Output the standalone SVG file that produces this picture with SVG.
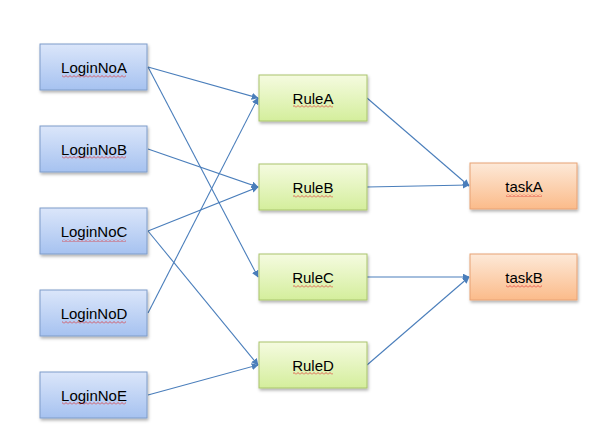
<svg xmlns="http://www.w3.org/2000/svg" width="615" height="437" viewBox="0 0 615 437">
<defs>
<linearGradient id="gBlue" x1="0" y1="0" x2="0" y2="1"><stop offset="0" stop-color="#dbe6fa"/><stop offset="1" stop-color="#a6c2f0"/></linearGradient>
<linearGradient id="gGreen" x1="0" y1="0" x2="0" y2="1"><stop offset="0" stop-color="#f5fbe0"/><stop offset="1" stop-color="#d4ee9c"/></linearGradient>
<linearGradient id="gOrange" x1="0" y1="0" x2="0" y2="1"><stop offset="0" stop-color="#fde9d8"/><stop offset="1" stop-color="#fbbb8a"/></linearGradient>
<filter id="sh" x="-10%" y="-20%" width="130%" height="160%"><feDropShadow dx="1" dy="2" stdDeviation="1.5" flood-color="#000" flood-opacity="0.3"/></filter>
<marker id="arr" viewBox="0 0 10 10" refX="9" refY="5" markerWidth="7" markerHeight="7" markerUnits="userSpaceOnUse" orient="auto"><path d="M0,0 L10,5 L0,10 z" fill="#4a7ebb"/></marker>
<pattern id="sq" width="4" height="3" patternUnits="userSpaceOnUse"><path d="M0,2.5 L2,0.5 L4,2.5" fill="none" stroke="#e02424" stroke-width="0.7"/></pattern>
</defs>
<style>
.blue{fill:url(#gBlue);stroke:#7f9cc9;stroke-width:1}
.green{fill:url(#gGreen);stroke:#a9c46c;stroke-width:1}
.orange{fill:url(#gOrange);stroke:#e8a274;stroke-width:1}
.box{filter:url(#sh)}
.t{font-family:"Liberation Sans",Arial,sans-serif;font-size:15px;fill:#000;text-anchor:middle}
.sq{fill:url(#sq)}
.c{stroke:#4a7ebb;stroke-width:1.1;fill:none;marker-end:url(#arr)}
</style>
<rect width="615" height="437" fill="#fff"/>
<g id="connectors">
<line class="c" x1="148" y1="67" x2="258" y2="98"/>
<line class="c" x1="148" y1="67" x2="258" y2="277"/>
<line class="c" x1="148" y1="149" x2="258" y2="187"/>
<line class="c" x1="148" y1="231" x2="258" y2="187"/>
<line class="c" x1="148" y1="231" x2="258" y2="365"/>
<line class="c" x1="148" y1="313" x2="258" y2="98"/>
<line class="c" x1="148" y1="395" x2="258" y2="365"/>
<line class="c" x1="367" y1="98" x2="469" y2="186"/>
<line class="c" x1="367" y1="187" x2="469" y2="185"/>
<line class="c" x1="367" y1="277" x2="469" y2="277"/>
<line class="c" x1="367" y1="365" x2="469" y2="277"/>
</g>
<g id="LoginNoA"><rect class="blue box" x="40" y="44" width="107" height="46"/><text class="t" x="94" y="73">LoginNoA</text><rect class="sq" x="62" y="75" width="64" height="3"/></g>
<g id="LoginNoB"><rect class="blue box" x="40" y="126" width="107" height="46"/><text class="t" x="94" y="155">LoginNoB</text><rect class="sq" x="62" y="156" width="64" height="3"/></g>
<g id="LoginNoC"><rect class="blue box" x="40" y="208" width="107" height="46"/><text class="t" x="94" y="237">LoginNoC</text><rect class="sq" x="62" y="239" width="64" height="3"/></g>
<g id="LoginNoD"><rect class="blue box" x="40" y="290" width="107" height="46"/><text class="t" x="94" y="319">LoginNoD</text><rect class="sq" x="62" y="321" width="64" height="3"/></g>
<g id="LoginNoE"><rect class="blue box" x="40" y="372" width="107" height="46"/><text class="t" x="94" y="401">LoginNoE</text><rect class="sq" x="62" y="402" width="64" height="3"/></g>
<g id="RuleA"><rect class="green box" x="259" y="75" width="108" height="46"/><text class="t" x="313" y="104">RuleA</text><rect class="sq" x="293" y="105" width="40" height="3"/></g>
<g id="RuleB"><rect class="green box" x="259" y="164" width="108" height="46"/><text class="t" x="313" y="193">RuleB</text><rect class="sq" x="293" y="195" width="40" height="3"/></g>
<g id="RuleC"><rect class="green box" x="259" y="254" width="108" height="46"/><text class="t" x="313" y="283">RuleC</text><rect class="sq" x="293" y="285" width="40" height="3"/></g>
<g id="RuleD"><rect class="green box" x="259" y="342" width="108" height="46"/><text class="t" x="313" y="371">RuleD</text><rect class="sq" x="293" y="372" width="40" height="3"/></g>
<g id="taskA"><rect class="orange box" x="470" y="163" width="107" height="46"/><text class="t" x="524" y="192">taskA</text><rect class="sq" x="506" y="194" width="36" height="3"/></g>
<g id="taskB"><rect class="orange box" x="470" y="254" width="107" height="46"/><text class="t" x="524" y="283">taskB</text><rect class="sq" x="506" y="285" width="36" height="3"/></g>
</svg>
